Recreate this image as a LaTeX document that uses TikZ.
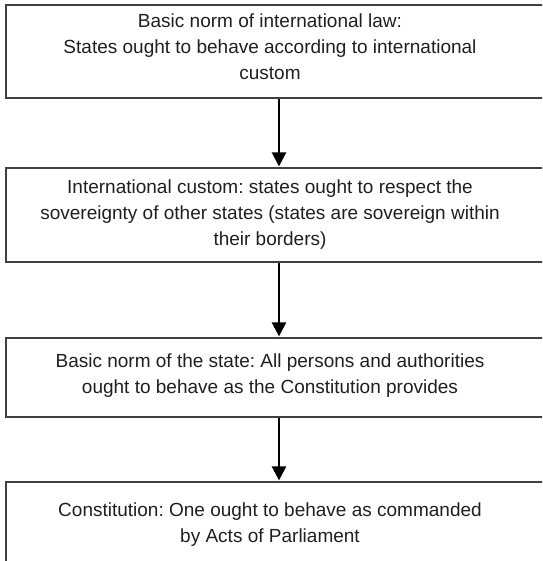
\documentclass[tikz,border=0pt]{standalone}
\usepackage{fontspec}
\setmainfont{Liberation Sans}
\usetikzlibrary{arrows.meta}
\frenchspacing
\begin{document}
\begin{tikzpicture}[x=1pt,y=1pt,
  box/.style={draw=black!75, line width=1.6pt, rectangle, minimum width=546pt, inner sep=0pt},
  txt/.style={align=center, text=black!88, inner sep=0pt, font=\fontsize{19}{26}\selectfont},
  arr/.style={draw=black, line width=2.4pt, -{Triangle[width=14pt,length=14pt]}, shorten >=0.8pt}
]
\useasboundingbox (0,0) rectangle (542,-561);
\clip (0,0) rectangle (542,-561);

% level boxes
\node[box, minimum height=93pt] (b1) at (279,-51.5) {};
\node[box, minimum height=94pt] (b2) at (279,-215) {};
\node[box, minimum height=79pt] (b3) at (279,-377.5) {};
\node[box, minimum height=120pt] (b4) at (279,-542) {};

% box texts
\node[txt] (t1) at (270,-47) {Basic norm of international law:\\States ought to behave according to international\\custom};
\node[txt] (t2) at (270,-214.5) {International custom: states ought to respect the\\sovereignty of other states (states are sovereign within\\their borders)};
\node[txt] (t3) at (270,-375.5) {Basic norm of the state: All persons and authorities\\ought to behave as the Constitution provides};
\node[txt] (t4) at (270,-525) {Constitution: One ought to behave as commanded\\by Acts of Parliament};

% derivation arrows
\draw[arr] (b1.south) -- (b2.north);
\draw[arr] (b2.south) -- (b3.north);
\draw[arr] (b3.south) -- (b4.north);
\end{tikzpicture}
\end{document}
